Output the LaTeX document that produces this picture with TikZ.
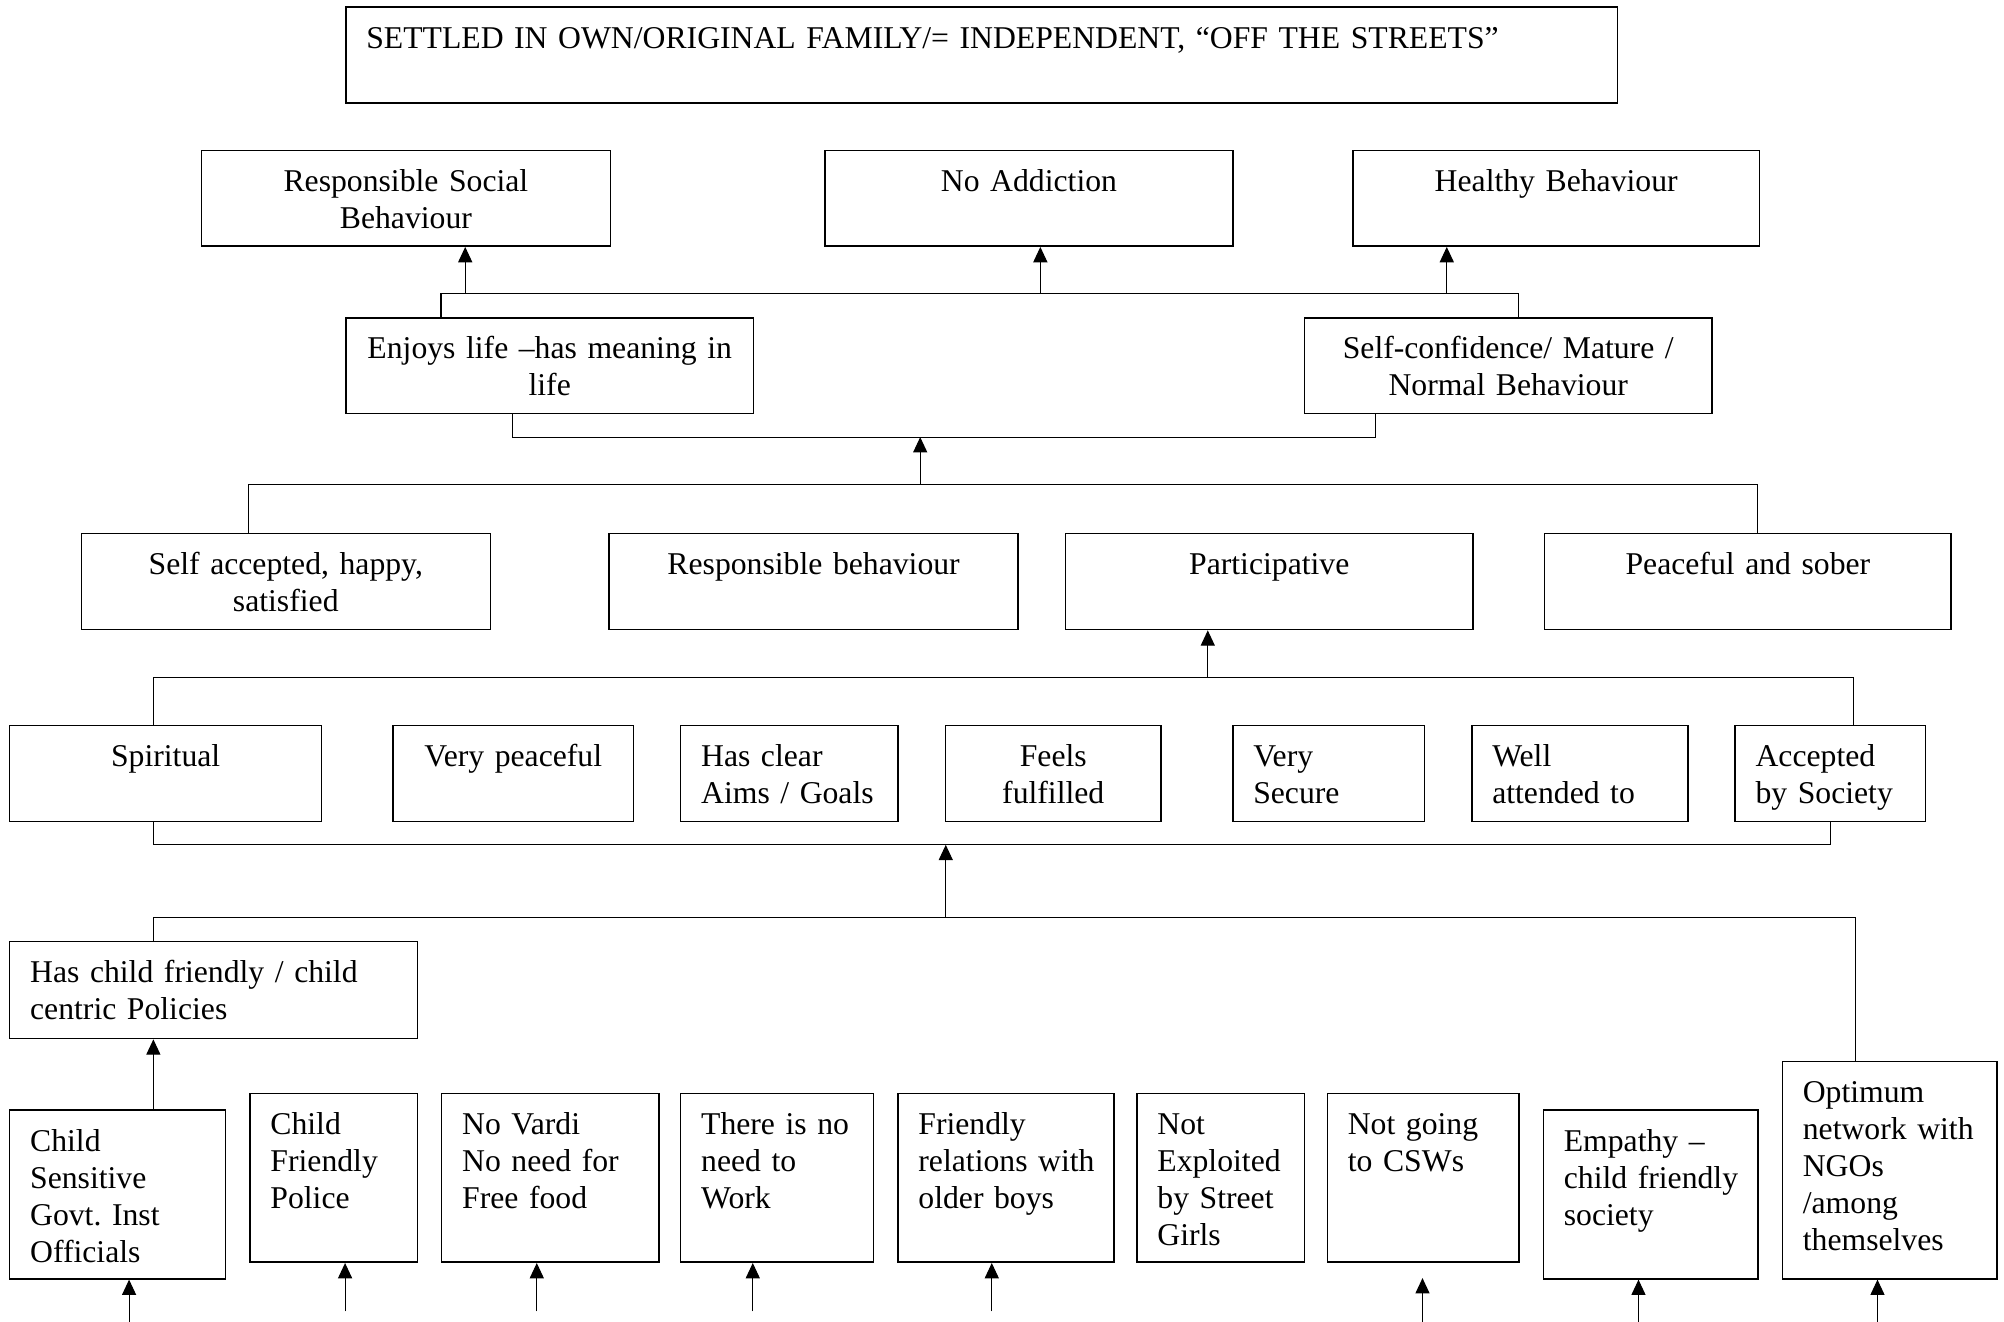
\documentclass[tikz,border=0pt]{standalone}
\usepackage{fontspec}
\setmainfont{Liberation Serif}
\usetikzlibrary{arrows.meta}

\begin{document}
\begin{tikzpicture}[x=1pt,y=-1pt,
  every node/.style={font=\fontsize{24.8}{29}\selectfont},
  execute at begin node={\hyphenpenalty=10000 \frenchspacing},
  box/.style={draw, line width=1.2pt, rectangle, inner ysep=0pt,
              anchor=north west, text height=32pt},
  lbox/.style={box, inner xsep=16pt, align=left},
  cbox/.style={box, inner xsep=4pt, align=center},
  conn/.style={line width=0.9pt},
  arr/.style={conn, -{Triangle[length=12pt,width=11pt]}}
]
\useasboundingbox (0,0) rectangle (1568,1034);

% ---- goal ----
\node[lbox, text width=963pt, text depth=43pt] (goal) at (270,5)
  {SETTLED IN OWN/ORIGINAL FAMILY/= INDEPENDENT, “OFF THE STREETS”};

% ---- outcomes ----
\node[cbox, text width=312pt, text depth=43pt] (rsb) at (157,117) {Responsible Social\\Behaviour};
\node[cbox, text width=311pt, text depth=43pt] (noadd) at (645,117) {No Addiction};
\node[cbox, text width=310pt, text depth=43pt] (healthy) at (1058,117) {Healthy Behaviour};

\node[cbox, text width=311pt, text depth=43pt] (enjoys) at (270,248) {Enjoys life –has meaning in\\life};
\node[cbox, text width=311pt, text depth=43pt] (selfconf) at (1020,248) {Self-confidence/ Mature /\\Normal Behaviour};

\node[cbox, text width=312pt, text depth=43pt] (selfacc) at (63,417) {Self accepted, happy,\\satisfied};
\node[cbox, text width=312pt, text depth=43pt] (respb) at (476,417) {Responsible behaviour};
\node[cbox, text width=311pt, text depth=43pt] (partic) at (833,417) {Participative};
\node[cbox, text width=310pt, text depth=43pt] (peace) at (1208,417) {Peaceful and sober};

\node[cbox, text width=236pt, text depth=43pt] (spirit) at (7,567) {Spiritual};
\node[cbox, text width=180pt, text depth=43pt] (vpeace) at (307,567) {Very peaceful};
\node[lbox, text width=138pt, text depth=43pt] (aims) at (532,567) {Has clear\\Aims / Goals};
\node[cbox, text width=161pt, text depth=43pt] (fulfil) at (739,567) {Feels\\fulfilled};
\node[lbox, text width=118pt, text depth=43pt] (secure) at (964,567) {Very\\Secure};
\node[lbox, text width=137pt, text depth=43pt] (attended) at (1151,567) {Well\\attended to};
\node[lbox, text width=117pt, text depth=43pt] (accepted) at (1357,567) {Accepted\\by Society};

\node[lbox, text width=287pt, text depth=44pt] (policies) at (7,736) {Has child friendly / child\\centric Policies};

% ---- enabling conditions ----
\node[lbox, text width=137pt, text depth=100pt] (csens) at (7,868) {Child\\Sensitive\\Govt. Inst\\Officials};
\node[lbox, text width=99pt, text depth=100pt] (police) at (195,855) {Child\\Friendly\\Police};
\node[lbox, text width=138pt, text depth=100pt] (vardi) at (345,855) {No Vardi\\No need for\\Free food};
\node[lbox, text width=119pt, text depth=100pt] (work) at (532,855) {There is no\\need to\\Work};
\node[lbox, text width=137pt, text depth=100pt] (older) at (702,855) {Friendly\\relations~with\\older boys};
\node[lbox, text width=99pt, text depth=100pt] (exploit) at (889,855) {Not\\Exploited\\by Street\\Girls};
\node[lbox, text width=118pt, text depth=100pt] (csw) at (1038,855) {Not going\\to CSWs};
\node[lbox, text width=136pt, text depth=100pt] (empathy) at (1207,868) {Empathy –\\child~friendly\\society};
\node[lbox, text width=136pt, text depth=138pt] (optimum) at (1394,830) {Optimum\\network with\\NGOs\\/among\\themselves};

% ---- junction points ----
\coordinate (busAL) at (345,229.5);
\coordinate (busAR) at (1188,229.5);
\coordinate (a1) at (364,229.5);
\coordinate (a2) at (814,229.5);
\coordinate (a3) at (1132,229.5);

\coordinate (busBL) at (401,342);
\coordinate (busBR) at (1076,342);

\coordinate (busCL) at (194.6,379);
\coordinate (busCR) at (1375.4,379);
\coordinate (c0) at (720,379);

\coordinate (busDL) at (120,530);
\coordinate (busDR) at (1450,530);
\coordinate (d0) at (945,530);

\coordinate (busEL) at (120,661);
\coordinate (busER) at (1432,661);

\coordinate (busFL) at (120,718);
\coordinate (busFR) at (1452,718);
\coordinate (f0) at (740,718);

\coordinate (b1) at (101,1034);
\coordinate (b2) at (270,1026);
\coordinate (b3) at (420,1026);
\coordinate (b4) at (589,1026);
\coordinate (b5) at (776,1026);
\coordinate (b6) at (1113,1034);
\coordinate (b6e) at (1113,1000);
\coordinate (b7) at (1282,1034);
\coordinate (b8) at (1469,1034);

% ---- connectors ----
\draw[conn] (busAL |- enjoys.north) -- (busAL) -- (busAR) -- (busAR |- selfconf.north);
\draw[arr] (a1) -- (a1 |- rsb.south);
\draw[arr] (a2) -- (a2 |- noadd.south);
\draw[arr] (a3) -- (a3 |- healthy.south);

\draw[conn] (busBL |- enjoys.south) -- (busBL) -- (busBR) -- (busBR |- selfconf.south);

\draw[conn] (busCL |- selfacc.north) -- (busCL) -- (busCR) -- (busCR |- peace.north);
\draw[arr] (c0) -- (c0 |- busBL);

\draw[conn] (busDL |- spirit.north) -- (busDL) -- (busDR) -- (busDR |- accepted.north);
\draw[arr] (d0) -- (d0 |- partic.south);

\draw[conn] (busEL |- spirit.south) -- (busEL) -- (busER) -- (busER |- accepted.south);

\draw[conn] (busFL |- policies.north) -- (busFL) -- (busFR) -- (busFR |- optimum.north);
\draw[arr] (f0) -- (f0 |- busEL);
\draw[arr] (busFL |- csens.north) -- (busFL |- policies.south);

\draw[arr] (b1) -- (b1 |- csens.south);
\draw[arr] (b2) -- (b2 |- police.south);
\draw[arr] (b3) -- (b3 |- vardi.south);
\draw[arr] (b4) -- (b4 |- work.south);
\draw[arr] (b5) -- (b5 |- older.south);
\draw[arr] (b6) -- (b6e);
\draw[arr] (b7) -- (b7 |- empathy.south);
\draw[arr] (b8) -- (b8 |- optimum.south);

\end{tikzpicture}
\end{document}
